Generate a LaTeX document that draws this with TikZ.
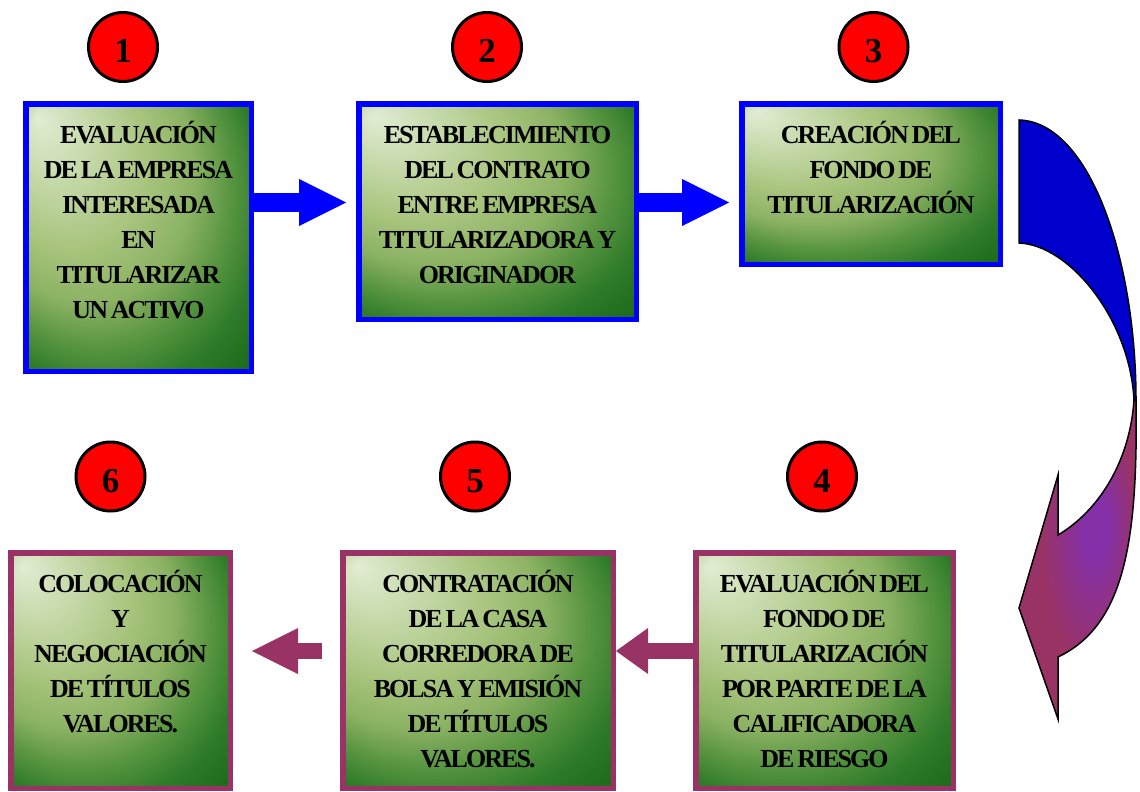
\documentclass[tikz,border=0pt]{standalone}
\usepackage{fontspec}
\setmainfont{Liberation Serif}
\newfontfamily\boxfont[LetterSpace=-7.5,WordSpace=0.6]{Liberation Serif}
\usetikzlibrary{arrows.meta}
\definecolor{bblue}{HTML}{0000FF}
\definecolor{mar}{HTML}{993366}
\definecolor{cblue}{HTML}{0000CC}
\definecolor{arP}{HTML}{8530A8}
\definecolor{g0}{HTML}{E2ECD4}
\definecolor{g1}{HTML}{CADCB0}
\definecolor{g2}{HTML}{A8C47D}
\definecolor{g3}{HTML}{8BB263}
\definecolor{g4}{HTML}{55933F}
\definecolor{g5}{HTML}{2E7B29}
\definecolor{g6}{HTML}{1B6A19}
\pgfdeclareradialshading{boxshade}{\pgfpoint{-22.5bp}{22.5bp}}{color(0bp)=(g0); color(7bp)=(g1); color(17bp)=(g2); color(24bp)=(g3); color(30bp)=(g4); color(35bp)=(g5); color(41bp)=(g6); color(50bp)=(g6)}
\pgfdeclareradialshading{arrowshade}{\pgfpoint{8bp}{6bp}}{color(0bp)=(arP); color(5bp)=(arP); color(20bp)=(mar); color(50bp)=(mar)}
\tikzset{
  box/.style={rectangle, inner sep=0pt, line width=5.5pt, shading=boxshade},
  topbox/.style={box, draw=bblue},
  botbox/.style={box, draw=mar},
  txt/.style={anchor=north, inner sep=0pt, align=center, font={\fontsize{26}{35}\boxfont\bfseries}},
  numc/.style={circle, draw=black, line width=3pt, fill=red, minimum size=69pt, inner sep=0pt,
    text height=31pt, text depth=0pt, font={\fontsize{35}{38}\selectfont\bfseries}},
  barrow/.style={draw=bblue, line width=19pt, -{Triangle[length=47pt,width=47pt,line width=0pt]}, shorten >=10pt},
  marrow/.style={draw=mar, line width=16pt},
  curvearrow/.style={draw=black, line width=1.5pt, line join=miter}
}
\begin{document}
\begin{tikzpicture}[x=1pt, y=-1pt]
\useasboundingbox (0,0) rectangle (1140,792);
% boxes
\node[topbox, minimum width=225.5pt, minimum height=267.5pt] (b1) at (138.5,237.5) {};
\node[topbox, minimum width=277.5pt, minimum height=215.5pt] (b2) at (497.5,211.5) {};
\node[topbox, minimum width=258.5pt, minimum height=160.5pt] (b3) at (871,184) {};
\node[botbox, minimum width=257.5pt, minimum height=235.5pt] (b4) at (824.5,670.5) {};
\node[botbox, minimum width=270.5pt, minimum height=235.5pt] (b5) at (478,670.5) {};
\node[botbox, minimum width=219.5pt, minimum height=235.5pt] (b6) at (120.5,670.5) {};
% texts
\node[txt] (t1) at ([yshift=-18pt]b1.north) {\strut EVALUACIÓN\\DE LA EMPRESA\\INTERESADA\\EN\\TITULARIZAR\\UN ACTIVO};
\node[txt] (t2) at ([yshift=-18pt]b2.north) {\strut ESTABLECIMIENTO\\DEL CONTRATO\\ENTRE EMPRESA\\TITULARIZADORA Y\\ORIGINADOR};
\node[txt] (t3) at ([yshift=-18pt]b3.north) {\strut CREACIÓN DEL\\FONDO DE\\TITULARIZACIÓN};
\node[txt] (t4) at ([yshift=-18pt]b4.north) {\strut EVALUACIÓN DEL\\FONDO DE\\TITULARIZACIÓN\\POR PARTE DE LA\\CALIFICADORA\\DE RIESGO};
\node[txt] (t5) at ([yshift=-18pt]b5.north) {\strut CONTRATACIÓN\\DE LA CASA\\CORREDORA DE\\BOLSA Y EMISIÓN\\DE TÍTULOS\\VALORES.};
\node[txt] (t6) at ([yshift=-18pt]b6.north) {\strut COLOCACIÓN\\Y\\NEGOCIACIÓN\\DE TÍTULOS\\VALORES.};
% number circles
\node[numc] (c1) at (123,47) {1};
\node[numc] (c2) at (487,47) {2};
\node[numc] (c3) at (873.5,47) {3};
\node[numc] (c4) at (822,476.5) {4};
\node[numc] (c5) at (475,476.5) {5};
\node[numc] (c6) at (110.5,476.5) {6};
% straight arrows
\coordinate (ra) at (0,202.5);
\coordinate (rb) at (0,651);
\draw[barrow] (b1.east |- ra) -- (b2.west |- ra);
\draw[barrow] (b2.east |- ra) -- (b3.west |- ra);
\draw[marrow, -{Triangle[length=32pt,width=46pt,line width=0pt]}] (b4.west |- rb) -- (b5.east |- rb);
\draw[marrow, -{Triangle[length=46pt,width=46pt,line width=0pt]}, shorten <=18pt, shorten >=19pt] (b5.west |- rb) -- (b6.east |- rb);
% curved arrow from box 3 down to box 4
\filldraw[curvearrow, fill=cblue]
  (1019,120) .. controls (1090,122) and (1136,260) .. (1136,400) -- (1134,400)
  .. controls (1130,320) and (1070,245) .. (1019,243) -- cycle;
\shadedraw[curvearrow, shading=arrowshade]
  (1134,400) -- (1136,400) .. controls (1138,540) and (1125,625) .. (1058,657)
  -- (1058,719) -- (1019,608) -- (1058,475) -- (1058,535)
  .. controls (1100,510) and (1130,460) .. (1134,400) -- cycle;
\end{tikzpicture}
\end{document}
